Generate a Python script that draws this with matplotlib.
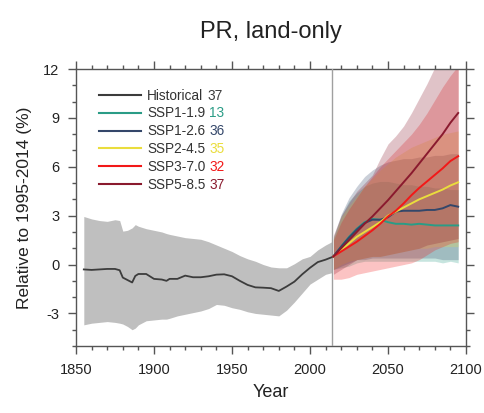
import matplotlib
matplotlib.use("Agg")
import matplotlib.pyplot as plt
from matplotlib.lines import Line2D
from matplotlib.ticker import MultipleLocator

plt.rcParams['font.family'] = ['Liberation Sans', 'DejaVu Sans']
plt.rcParams['axes.unicode_minus'] = False

# ---------------- data ----------------
hist_years = [1855, 1860, 1865, 1870, 1875, 1878, 1880, 1883, 1886, 1888, 1890, 1895,
              1900, 1905, 1908, 1910, 1915, 1920, 1925, 1930, 1935, 1940, 1945, 1950,
              1955, 1960, 1965, 1970, 1975, 1980, 1985, 1990, 1995, 2000, 2005, 2010, 2014]
hist_mean = [-0.30, -0.33, -0.30, -0.27, -0.27, -0.35, -0.80, -0.95, -1.10, -0.70, -0.58, -0.58,
             -0.88, -0.92, -1.00, -0.88, -0.88, -0.68, -0.78, -0.78, -0.72, -0.62, -0.60, -0.72,
             -1.00, -1.25, -1.40, -1.42, -1.45, -1.62, -1.35, -1.05, -0.60, -0.20, 0.15, 0.30, 0.45]
hist_upper = [2.95, 2.80, 2.70, 2.65, 2.75, 2.70, 2.05, 2.10, 2.25, 2.45, 2.35, 2.20,
              2.10, 2.00, 1.90, 1.85, 1.75, 1.65, 1.60, 1.55, 1.40, 1.20, 1.00, 0.80,
              0.55, 0.35, 0.20, 0.00, -0.15, -0.20, -0.20, 0.05, 0.35, 0.50, 0.90, 1.20, 1.40]
hist_lower = [-3.70, -3.60, -3.55, -3.50, -3.55, -3.60, -3.65, -3.80, -4.00, -3.90, -3.70, -3.45,
              -3.40, -3.35, -3.35, -3.30, -3.15, -3.05, -2.95, -2.85, -2.70, -2.45, -2.50, -2.65,
              -2.75, -2.90, -3.00, -3.05, -3.10, -3.15, -2.80, -2.30, -1.75, -1.20, -0.90, -0.60, -0.50]

fut_years = [2015, 2020, 2025, 2030, 2035, 2040, 2045, 2050, 2055, 2060,
             2065, 2070, 2075, 2080, 2085, 2090, 2095]

ssp119_mean = [0.50, 1.10, 1.70, 2.20, 2.60, 2.80, 2.75, 2.60, 2.50, 2.50, 2.45, 2.50, 2.45, 2.40, 2.40, 2.40, 2.40]
ssp126_mean = [0.50, 1.10, 1.65, 2.15, 2.55, 2.75, 2.75, 2.90, 3.25, 3.30, 3.30, 3.30, 3.35, 3.35, 3.45, 3.65, 3.55]
ssp245_mean = [0.50, 0.90, 1.30, 1.70, 2.00, 2.30, 2.60, 3.00, 3.25, 3.50, 3.75, 4.00, 4.20, 4.40, 4.60, 4.85, 5.05]
ssp370_mean = [0.50, 0.80, 1.10, 1.40, 1.75, 2.10, 2.50, 2.95, 3.30, 3.75, 4.25, 4.70, 5.10, 5.50, 5.90, 6.35, 6.65]
ssp585_mean = [0.50, 1.00, 1.50, 2.00, 2.50, 2.95, 3.45, 3.95, 4.50, 5.05, 5.60, 6.20, 6.80, 7.40, 8.00, 8.70, 9.30]

ssp119_upper = [1.60, 3.00, 3.90, 4.40, 4.80, 5.00, 5.10, 5.10, 5.00, 4.90, 4.90, 4.80, 4.80, 4.70, 4.70, 4.60, 4.60]
ssp119_lower = [-0.30, -0.20, -0.10, 0.10, 0.20, 0.20, 0.20, 0.20, 0.20, 0.20, 0.20, 0.20, 0.20, 0.20, 0.10, 0.20, 0.10]
ssp126_upper = [1.70, 3.10, 4.10, 4.80, 5.40, 5.80, 6.10, 6.30, 6.40, 6.50, 6.50, 6.60, 6.60, 6.70, 6.70, 6.80, 6.80]
ssp126_lower = [-0.30, -0.10, 0.10, 0.30, 0.30, 0.40, 0.40, 0.40, 0.40, 0.40, 0.40, 0.40, 0.40, 0.40, 0.30, 0.30, 0.30]
ssp245_upper = [1.60, 2.90, 3.60, 4.20, 4.80, 5.30, 5.80, 6.20, 6.60, 6.90, 7.20, 7.40, 7.60, 7.80, 8.00, 8.10, 8.20]
ssp245_lower = [-0.30, 0.00, 0.20, 0.30, 0.40, 0.50, 0.50, 0.60, 0.70, 0.80, 0.90, 1.00, 1.00, 1.10, 1.10, 1.10, 1.10]
ssp370_upper = [1.50, 2.60, 3.40, 4.10, 4.80, 5.40, 6.00, 6.50, 7.00, 7.50, 8.00, 8.60, 9.30, 10.10, 10.90, 11.60, 12.20]
ssp370_lower = [-0.90, -0.90, -0.80, -0.60, -0.50, -0.40, -0.30, -0.20, -0.10, 0.00, 0.10, 0.30, 0.60, 0.90, 1.10, 1.30, 1.40]
ssp585_upper = [1.80, 3.00, 3.80, 4.50, 5.00, 5.50, 6.50, 7.40, 7.90, 8.50, 9.30, 10.20, 11.10, 12.10, 12.80, 13.30, 13.80]
ssp585_lower = [-0.60, -0.30, 0.00, 0.30, 0.40, 0.50, 0.50, 0.60, 0.70, 0.80, 0.90, 1.00, 1.20, 1.30, 1.40, 1.50, 1.60]

labels = ["Historical", "SSP1-1.9", "SSP1-2.6", "SSP2-4.5", "SSP3-7.0", "SSP5-8.5"]
counts = ["37", "13", "36", "35", "32", "37"]
colors = ["#3c3c3c", "#2a9c86", "#34476a", "#eadd3d", "#f21818", "#8a1a2e"]

fut_means = [ssp119_mean, ssp126_mean, ssp245_mean, ssp370_mean, ssp585_mean]
fut_uppers = [ssp119_upper, ssp126_upper, ssp245_upper, ssp370_upper, ssp585_upper]
fut_lowers = [ssp119_lower, ssp126_lower, ssp245_lower, ssp370_lower, ssp585_lower]

# ---------------- figure ----------------
fig = plt.figure(figsize=(4.85, 4.13), dpi=100)
ax = fig.add_axes([0.1567, 0.1622, 0.8041, 0.6707])

ax.fill_between(hist_years, hist_lower, hist_upper, color="#bfbfbf", lw=0, zorder=1)
ax.plot(hist_years, hist_mean, color=colors[0], lw=1.3, zorder=5)

for up, lo, c in zip(fut_uppers, fut_lowers, colors[1:]):
    ax.fill_between(fut_years, lo, up, color=c, alpha=0.26, lw=0, zorder=2)
for m, c in zip(fut_means, colors[1:]):
    ax.plot(fut_years, m, color=c, lw=1.4, zorder=5)

ax.axvline(2014, color="#a0a0a0", lw=1.0, zorder=3)

ax.set_xlim(1850, 2100)
ax.set_ylim(-5, 12)
ax.xaxis.set_major_locator(MultipleLocator(50))
ax.xaxis.set_minor_locator(MultipleLocator(10))
ax.yaxis.set_major_locator(MultipleLocator(3))
ax.yaxis.set_minor_locator(MultipleLocator(1))

axcol = "#555555"
for s in ax.spines.values():
    s.set_color(axcol)
    s.set_linewidth(1.0)
ax.tick_params(which="both", direction="out", top=True, right=True,
               labeltop=False, labelright=False, color=axcol, width=1.0)
ax.tick_params(which="major", length=6, labelsize=10.5, pad=6, labelcolor="#222222")
ax.tick_params(which="minor", length=3)

ax.set_xlabel("Year", fontsize=13, labelpad=5, color="#222222")
ax.set_ylabel("Relative to 1995-2014 (%)", fontsize=12.5, labelpad=8, color="#222222")
ax.set_title("PR, land-only", fontsize=17, pad=22, color="#222222")

handles = [Line2D([], [], color=c, lw=1.5) for c in colors]
leg = ax.legend(handles, labels, loc="upper left", bbox_to_anchor=(0.058, 0.929),
                frameon=False, fontsize=9.8, handlelength=3.1, handletextpad=0.45,
                labelspacing=0.28, borderpad=0, borderaxespad=0)
for t in leg.get_texts():
    t.set_color("#333333")
fig.canvas.draw()
for t, n, c in zip(leg.get_texts(), counts, colors):
    ax.annotate(n, xy=(1, 0), xycoords=t, xytext=(3, 0), textcoords="offset points",
                fontsize=9.8, color=c, va="bottom", ha="left")

fig.savefig("out.png", dpi=100)
